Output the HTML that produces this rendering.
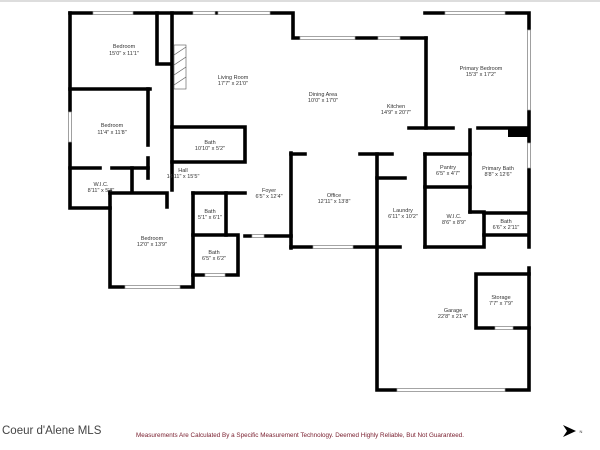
<!DOCTYPE html>
<html><head><style>
html,body{margin:0;padding:0;background:#fff;width:600px;height:450px;overflow:hidden}
text{font-family:"Liberation Sans",sans-serif;fill:#333;font-size:5.5px;text-anchor:middle}
</style></head><body>
<svg width="600" height="450" viewBox="0 0 600 450" xmlns="http://www.w3.org/2000/svg">
<rect x="0" y="0" width="600" height="2" fill="#ddd"/>
<g stroke="#000" stroke-width="3.6" fill="none" stroke-linecap="square">
<path d="M70,13 H293 V38 H426"/>
<path d="M70,13 V208 H110"/>
<path d="M110,192 V287 H193 V193"/>
<path d="M110,193 H167 V207"/>
<path d="M157,13 V64 H171"/>
<path d="M172,13 V190"/>
<path d="M70,89 H150"/>
<path d="M148,89 V145"/>
<path d="M148,158 V178"/>
<path d="M70,168 H100 M112,168 H148"/>
<path d="M132,168 V192"/>
<path d="M193,193 H245"/>
<path d="M226,193 V235"/>
<path d="M193,235 H238 V275 H193"/>
<path d="M172,127 H245 V162 H172"/>
<path d="M291,153 V248"/>
<path d="M245,236 H291"/>
<path d="M425,13 H529 V247"/>
<path d="M426,38 V128"/>
<path d="M409,128 H453 M478,128 H528"/>
<path d="M291,154 H305 M360,154 H392"/>
<path d="M291,247 H400"/>
<path d="M377,154 V390 H529 V268"/>
<path d="M377,178 H405"/>
<path d="M425,154 V247"/>
<path d="M425,154 H470 M425,187 H470"/>
<path d="M470,130 V212"/>
<path d="M470,212 H484 V247 H425"/>
<path d="M484,213 H528 M484,235 H528"/>
<path d="M476,274 H529 M476,328 H529 M476,274 V328"/>
</g>
<g fill="#fff" stroke="#999" stroke-width="0.7">
<rect x="93" y="11.5" width="40" height="3"/>
<rect x="193" y="11.5" width="22" height="3"/>
<rect x="218" y="11.5" width="52" height="3"/>
<rect x="300" y="36.5" width="55" height="3"/>
<rect x="378" y="36.5" width="22" height="3"/>
<rect x="445" y="11.5" width="60" height="3"/>
<rect x="527.5" y="30" width="3" height="80"/>
<rect x="527.5" y="143" width="3" height="25"/>
<rect x="68.5" y="112" width="3" height="30"/>
<rect x="125" y="285.5" width="55" height="3"/>
<rect x="205" y="273.5" width="20" height="3"/>
<rect x="313" y="245.5" width="40" height="3"/>
<rect x="397" y="388.5" width="108" height="3"/>
<rect x="495" y="326.5" width="18" height="3"/>
<rect x="252" y="234.5" width="12" height="3"/>
</g>
<rect x="508" y="128" width="20" height="9" fill="#000"/>
<g stroke="#555" stroke-width="0.6" fill="none">
<rect x="174" y="45" width="12" height="44"/>
<path d="M174,55 L186,47 M174,65 L186,57 M174,75 L186,67 M174,85 L186,77"/>
</g>
<text x="124" y="48">Bedroom</text><text x="124" y="55">15'0" x 11'1"</text>
<text x="112" y="127">Bedroom</text><text x="112" y="134">11'4" x 11'8"</text>
<text x="233" y="79">Living Room</text><text x="233" y="85">17'7" x 21'0"</text>
<text x="210" y="144">Bath</text><text x="210" y="150">10'10" x 5'2"</text>
<text x="183" y="172">Hall</text><text x="183" y="178">14'11" x 15'5"</text>
<text x="101" y="186">W.I.C.</text><text x="101" y="192">8'11" x 5'8"</text>
<text x="152" y="240">Bedroom</text><text x="152" y="246">12'0" x 13'9"</text>
<text x="210" y="213">Bath</text><text x="210" y="219">5'1" x 6'1"</text>
<text x="214" y="254">Bath</text><text x="214" y="260">6'5" x 6'2"</text>
<text x="269" y="192">Foyer</text><text x="269" y="198">6'5" x 12'4"</text>
<text x="323" y="96">Dining Area</text><text x="323" y="102">10'0" x 17'0"</text>
<text x="396" y="108">Kitchen</text><text x="396" y="114">14'9" x 20'7"</text>
<text x="481" y="70">Primary Bedroom</text><text x="481" y="76">15'3" x 17'2"</text>
<text x="334" y="197">Office</text><text x="334" y="203">12'11" x 13'8"</text>
<text x="403" y="212">Laundry</text><text x="403" y="218">6'11" x 10'2"</text>
<text x="448" y="169">Pantry</text><text x="448" y="175">6'5" x 4'7"</text>
<text x="498" y="170">Primary Bath</text><text x="498" y="176">8'8" x 12'6"</text>
<text x="454" y="218">W.I.C.</text><text x="454" y="224">8'6" x 8'9"</text>
<text x="506" y="223">Bath</text><text x="506" y="229">6'6" x 2'11"</text>
<text x="501" y="299">Storage</text><text x="501" y="305">7'7" x 7'9"</text>
<text x="453" y="312">Garage</text><text x="453" y="318">22'8" x 21'4"</text>
<text x="2" y="434" style="font-size:11.5px;text-anchor:start;fill:#444">Coeur d'Alene MLS</text>
<text x="300" y="437" style="font-size:6.3px;fill:#7a2030">Measurements Are Calculated By a Specific Measurement Technology. Deemed Highly Reliable, But Not Guaranteed.</text>
<path d="M563,425 L576,431 L563,437 L567,431 Z" fill="#000"/>
<text x="581" y="433" style="font-size:4px">N</text>
</svg>
</body></html>
